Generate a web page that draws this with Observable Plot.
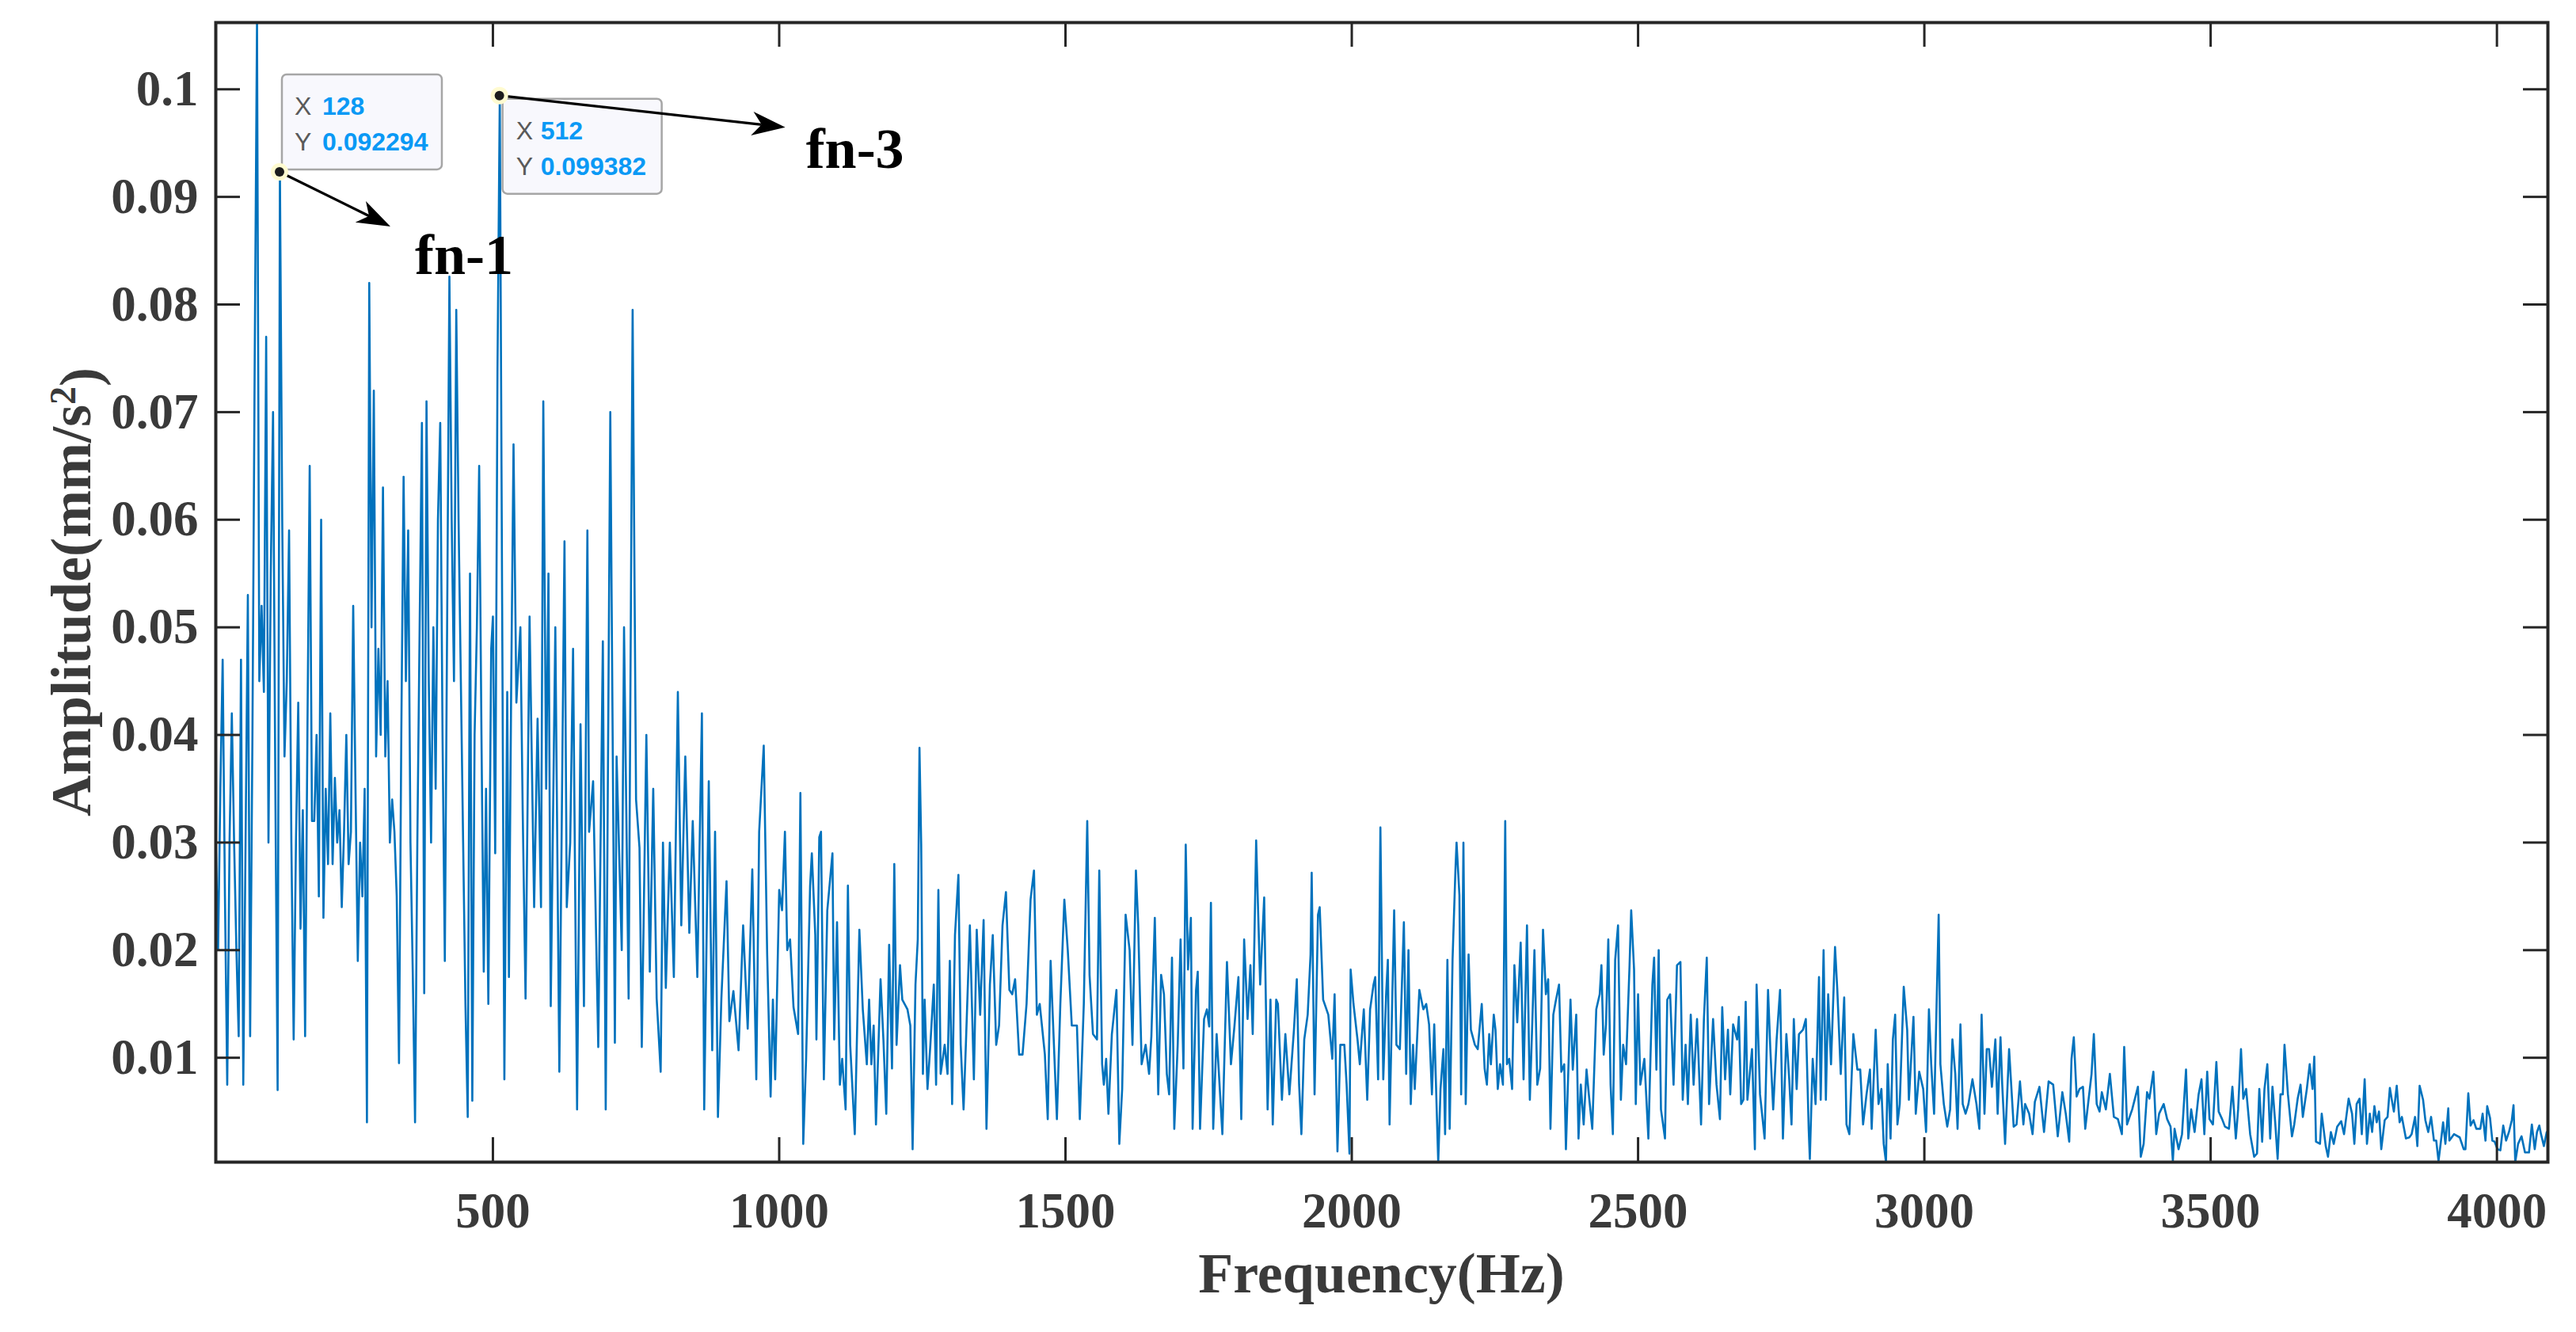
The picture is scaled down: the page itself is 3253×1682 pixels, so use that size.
<!DOCTYPE html>
<html><head><meta charset="utf-8">
<script src="https://cdn.jsdelivr.net/npm/d3@7"></script>
<script src="https://cdn.jsdelivr.net/npm/@observablehq/plot@0.6"></script>
<style>html,body{margin:0;padding:0;background:#fff;}</style>
</head><body>
<div id="chart"></div>
<script>
// [frequency (Hz), amplitude (mm/s^2)], band by band
const band1 = [[16,0.030],[20,0.020],[24,0.035],[28,0.047],[32,0.025],[36,0.0075],[40,0.030],[44,0.042],[48,0.030],[52,0.020],[56,0.012],[60,0.047],[64,0.0075],[68,0.030],[72,0.053],[76,0.012],[80,0.040],[84,0.075],[88,0.1062],[92,0.045],[96,0.052],[100,0.044],[104,0.077],[108,0.030],[112,0.055],[116,0.070],[120,0.035],[124,0.007],[128,0.092294],[132,0.060],[136,0.038],[140,0.045],[144,0.059],[148,0.030],[152,0.0117],[156,0.030],[160,0.043],[164,0.022],[168,0.033],[172,0.012],[176,0.040],[180,0.065],[184,0.032],[188,0.032],[192,0.040],[196,0.025],[200,0.060],[204,0.023],[208,0.035],[212,0.028],[216,0.042],[220,0.028],[224,0.036],[228,0.030],[232,0.033],[236,0.024],[240,0.031],[244,0.040],[248,0.028],[252,0.031],[256,0.052],[260,0.035],[264,0.019],[268,0.030],[272,0.025],[276,0.035],[280,0.004],[284,0.082],[288,0.050],[292,0.072],[296,0.038],[300,0.048],[304,0.040],[308,0.063],[312,0.038],[316,0.045],[320,0.030],[324,0.034],[328,0.031],[332,0.025],[336,0.0095],[340,0.040],[344,0.064],[348,0.045],[352,0.059],[356,0.030],[360,0.018],[364,0.004],[368,0.030],[372,0.050],[376,0.069],[380,0.016],[384,0.071],[388,0.045],[392,0.030],[396,0.050],[400,0.035],[404,0.060],[408,0.069],[412,0.040],[416,0.019],[420,0.050],[424,0.0826],[428,0.060],[432,0.045],[436,0.0795],[440,0.060],[444,0.045],[448,0.030],[452,0.015],[456,0.0045],[460,0.055],[464,0.006],[468,0.040],[472,0.050],[476,0.065],[480,0.040],[484,0.018],[488,0.035],[492,0.015]];
const band2 = [[497,0.048],[500,0.051],[504,0.029],[508,0.074],[512,0.099382],[515,0.065],[520,0.008],[525,0.044],[528,0.0175],[532,0.045],[536,0.067],[541,0.043],[548,0.050],[552,0.033],[557,0.0155],[564,0.051],[572,0.024],[578,0.0415],[584,0.024],[588,0.071],[593,0.035],[597,0.055],[601,0.0148],[609,0.050],[616,0.0087],[625,0.058],[629,0.024],[635,0.030],[640,0.048],[647,0.0052],[653,0.041],[659,0.0148],[665,0.059],[668,0.031],[675,0.0357],[684,0.011],[692,0.0487],[697,0.0052],[705,0.070],[713,0.0114],[716,0.038],[725,0.020],[729,0.050],[737,0.0155],[744,0.0795],[750,0.034],[756,0.0295],[760,0.011],[768,0.040],[774,0.018],[780,0.035],[786,0.0155],[793,0.0087],[797,0.030],[802,0.0165],[809,0.030],[816,0.0175],[823,0.044],[829,0.0223],[836,0.038],[843,0.0216],[849,0.032],[857,0.0175],[865,0.042],[869,0.0052],[877,0.0357],[883,0.0107],[888,0.031],[893,0.0045],[899,0.0155],[908,0.0264],[913,0.0134],[920,0.0162],[929,0.0107],[937,0.0223],[945,0.0127],[953,0.0275],[960,0.008],[965,0.031],[973,0.039],[979,0.0196]];
const band3 = [[985,0.0064],[989,0.0154],[993,0.008],[1000,0.0256],[1005,0.0237],[1010,0.031],[1014,0.020],[1019,0.021],[1025,0.0147],[1033,0.0122],[1037,0.0346],[1042,0.002],[1047,0.0099],[1054,0.026],[1057,0.029],[1063,0.0214],[1065,0.0117],[1070,0.0305],[1073,0.031],[1078,0.008],[1084,0.0237],[1093,0.029],[1096,0.0117],[1101,0.0226],[1106,0.0075],[1110,0.0099],[1116,0.0052],[1120,0.026],[1124,0.0112],[1132,0.0029],[1140,0.0219],[1146,0.0145],[1153,0.0094],[1157,0.0154],[1161,0.0094],[1165,0.013],[1169,0.0038],[1177,0.0173],[1182,0.0117],[1187,0.0048],[1192,0.0205],[1197,0.009],[1201,0.028],[1205,0.0112],[1211,0.0186],[1215,0.0154],[1224,0.0145],[1229,0.013],[1233,0.0015],[1238,0.0168],[1242,0.021],[1245,0.0388],[1248,0.0298],[1251,0.0085],[1254,0.0154],[1259,0.0071],[1264,0.0112],[1270,0.0168],[1274,0.0075],[1278,0.0256],[1282,0.0085],[1289,0.0112],[1294,0.0085],[1298,0.019],[1302,0.0057],[1307,0.0214],[1313,0.027],[1317,0.0112],[1322,0.0052],[1326,0.0112],[1333,0.0223],[1340,0.008],[1345,0.0219],[1351,0.014],[1357,0.0228],[1362,0.0034],[1368,0.0168],[1373,0.0214],[1379,0.0112],[1384,0.013],[1390,0.0223],[1396,0.0254],[1402,0.0163],[1407,0.0159],[1412,0.0173],[1419,0.0103],[1425,0.0103],[1432,0.015],[1439,0.0247],[1445,0.0274],[1450,0.014],[1455,0.015],[1464,0.0103],[1469,0.0043],[1474,0.019],[1478,0.0136],[1485,0.0043],[1491,0.015],[1498,0.0247],[1504,0.020],[1511,0.013],[1520,0.013],[1525,0.0043],[1532,0.015],[1538,0.032],[1542,0.0177],[1548,0.0122],[1555,0.0117],[1559,0.0274],[1564,0.0094],[1567,0.0075],[1571,0.0099],[1575,0.0048],[1581,0.0122],[1589,0.0163],[1594,0.002],[1599,0.0071],[1605,0.0233],[1612,0.020],[1617,0.0112],[1623,0.0274],[1627,0.0223],[1633,0.0094],[1640,0.0112],[1646,0.0085],[1650,0.012],[1656,0.023],[1662,0.0066],[1667,0.0177],[1672,0.0159],[1677,0.0085],[1681,0.0066]];
const band4 = [[1686,0.0193],[1690,0.0034],[1696,0.0112],[1701,0.021],[1706,0.009],[1710,0.0298],[1714,0.0182],[1719,0.023],[1722,0.0034],[1728,0.0163],[1731,0.018],[1735,0.0034],[1742,0.0136],[1747,0.0145],[1751,0.0129],[1754,0.0244],[1758,0.0034],[1764,0.0122],[1774,0.0029],[1782,0.0189],[1789,0.0094],[1795,0.0129],[1802,0.0175],[1807,0.0043],[1812,0.021],[1818,0.0136],[1823,0.0186],[1827,0.0122],[1833,0.0302],[1840,0.0168],[1847,0.0249],[1853,0.0052],[1858,0.0154],[1862,0.0038],[1868,0.0154],[1871,0.015],[1878,0.0061],[1884,0.0122],[1891,0.0066],[1899,0.0126],[1904,0.0173],[1908,0.0075],[1912,0.0029],[1917,0.0117],[1923,0.014],[1928,0.0196],[1930,0.0272],[1935,0.0066],[1941,0.0233],[1944,0.024],[1950,0.0154],[1959,0.014],[1966,0.0099],[1970,0.0159],[1975,0.0013],[1980,0.0112],[1987,0.0112],[1991,0.0075],[1996,0.0011],[1998,0.0182],[2003,0.015],[2010,0.0117],[2014,0.0094],[2021,0.0145],[2027,0.0061],[2032,0.0145],[2038,0.0168],[2041,0.0175],[2046,0.008],[2050,0.0314],[2055,0.008],[2060,0.0159],[2063,0.0191],[2066,0.0038],[2074,0.0237],[2078,0.0112],[2084,0.0108],[2091,0.0226],[2095,0.0085],[2099,0.020],[2103,0.0057],[2107,0.0112],[2110,0.0071],[2118,0.0163],[2125,0.0145],[2130,0.015],[2135,0.0131],[2140,0.0066],[2144,0.0131],[2151,0.0003],[2155,0.0071],[2160,0.0108],[2163,0.0029],[2167,0.0191],[2171,0.0034],[2176,0.0191],[2181,0.0274],[2183,0.030],[2188,0.0251],[2191,0.0066],[2195,0.030],[2199,0.0057],[2204,0.0196],[2208,0.0126],[2215,0.0112],[2220,0.0108],[2227,0.015],[2232,0.009],[2236,0.0075],[2240,0.0122],[2243,0.0094],[2248,0.014],[2251,0.0126],[2255,0.0071],[2259,0.0094],[2264,0.0075],[2268,0.032],[2271,0.0094],[2275,0.0099],[2280,0.0071],[2284,0.0186],[2289,0.0133],[2295,0.0207],[2300,0.008],[2306,0.0223],[2311,0.0061],[2316,0.0145],[2319,0.020],[2324,0.0075],[2329,0.009],[2334,0.0219],[2339,0.0159],[2343,0.0173],[2347,0.0034],[2352,0.014],[2356,0.0152],[2362,0.0168],[2366,0.0087],[2371,0.0094],[2374,0.0015]];
const band5 = [[2382,0.0154],[2386,0.0089],[2392,0.014],[2396,0.0025],[2400,0.0075],[2405,0.0038],[2410,0.0089],[2414,0.0066],[2420,0.0034],[2427,0.0145],[2433,0.0159],[2436,0.0186],[2440,0.0103],[2444,0.0131],[2448,0.021],[2452,0.0075],[2456,0.0029],[2460,0.0191],[2465,0.0223],[2470,0.0061],[2474,0.0112],[2479,0.0094],[2485,0.0184],[2488,0.0237],[2493,0.0182],[2496,0.0057],[2500,0.0159],[2504,0.0075],[2511,0.0099],[2518,0.0025],[2525,0.0168],[2528,0.0193],[2532,0.0089],[2536,0.020],[2540,0.0052],[2547,0.0025],[2551,0.0154],[2556,0.0159],[2562,0.0075],[2568,0.0186],[2574,0.0189],[2578,0.0061],[2583,0.0112],[2587,0.0057],[2592,0.014],[2597,0.0075],[2603,0.0136],[2610,0.0038],[2615,0.0136],[2620,0.0193],[2624,0.0057],[2631,0.0136],[2637,0.0075],[2643,0.0043],[2647,0.0147],[2652,0.008],[2657,0.0126],[2661,0.0066],[2666,0.0131],[2673,0.0117],[2676,0.0138],[2680,0.0057],[2684,0.0061],[2688,0.0152],[2691,0.0061],[2699,0.0108],[2704,0.0015],[2707,0.0168],[2713,0.0066],[2721,0.0025],[2727,0.0163],[2731,0.0108],[2736,0.0052],[2742,0.0117],[2748,0.0163],[2753,0.0025],[2759,0.0122],[2764,0.008],[2768,0.0038],[2772,0.0136],[2777,0.0071],[2781,0.0122],[2788,0.0126],[2793,0.0136],[2798,0.0034],[2800,0.0006],[2805,0.0099],[2810,0.0057],[2816,0.0175],[2819,0.0061],[2824,0.020],[2828,0.0061],[2832,0.0159],[2837,0.0094],[2844,0.0203],[2848,0.0163],[2854,0.0085],[2860,0.0156],[2864,0.0038],[2869,0.0029],[2876,0.0122],[2883,0.0089],[2888,0.0089],[2893,0.0038],[2899,0.0066],[2905,0.0089],[2908,0.0034],[2915,0.0126],[2920,0.0057],[2925,0.0071],[2929,0.002],[2933,0.0003],[2936,0.0094],[2941,0.0025],[2945,0.0117],[2949,0.014],[2953,0.0038],[2957,0.0057],[2964,0.0166],[2970,0.0126],[2973,0.0061],[2981,0.0138],[2985,0.0048],[2991,0.0087],[2998,0.0071],[3003,0.0031],[3008,0.0145],[3012,0.0094],[3017,0.0048],[3025,0.0233],[3028,0.0094],[3034,0.0057],[3040,0.0036],[3045,0.0052],[3049,0.0117],[3054,0.0085],[3058,0.0034],[3063,0.0131],[3067,0.0057]];
const band6 = [[3072,0.0048],[3077,0.0057],[3084,0.008],[3091,0.0057],[3096,0.0034],[3100,0.014],[3105,0.0048],[3109,0.0108],[3113,0.0108],[3118,0.0073],[3124,0.0117],[3128,0.0048],[3133,0.0119],[3136,0.0075],[3141,0.002],[3148,0.0108],[3156,0.0036],[3161,0.0038],[3167,0.0078],[3173,0.0038],[3176,0.0057],[3183,0.0048],[3189,0.0029],[3193,0.0059],[3201,0.0073],[3209,0.0031],[3217,0.0078],[3225,0.0075],[3233,0.0027],[3241,0.0068],[3247,0.0048],[3253,0.0022],[3257,0.0099],[3261,0.0119],[3266,0.0064],[3271,0.0071],[3277,0.0073],[3281,0.0034],[3287,0.0062],[3292,0.0085],[3296,0.0122],[3301,0.0057],[3306,0.005],[3310,0.0068],[3317,0.0052],[3324,0.0085],[3331,0.0045],[3338,0.0043],[3345,0.0029],[3349,0.011],[3354,0.0038],[3363,0.0052],[3373,0.0073],[3378,0.0008],[3383,0.002],[3389,0.0068],[3393,0.0062],[3400,0.0087],[3405,0.0029],[3410,0.0048],[3418,0.0057],[3424,0.0043],[3430,0.0036],[3434,0.0004],[3437,0.0034],[3444,0.0015],[3450,0.0029],[3457,0.0089],[3461,0.0025],[3466,0.0052],[3472,0.0031],[3479,0.0066],[3484,0.008],[3489,0.0029],[3494,0.0087],[3498,0.0043],[3504,0.0038],[3510,0.0096],[3514,0.005],[3520,0.0043],[3525,0.0036],[3532,0.0034],[3538,0.0073],[3544,0.0025],[3548,0.0052],[3553,0.0108],[3557,0.0062],[3562,0.0071],[3569,0.0029],[3576,0.0008],[3581,0.0011],[3585,0.0071],[3590,0.0022],[3594,0.0071],[3599,0.0094],[3604,0.0025],[3608,0.0073],[3613,0.0038],[3617,0.0006],[3622,0.0066],[3626,0.0066],[3629,0.0112],[3635,0.0066],[3642,0.0027],[3646,0.0038],[3652,0.0062],[3657,0.0075],[3661,0.0045],[3668,0.0071],[3673,0.0094],[3678,0.0071],[3681,0.0101],[3684,0.0022],[3691,0.002],[3694,0.0048],[3701,0.0018],[3705,0.0008],[3710,0.0031],[3715,0.002],[3721,0.0036],[3728,0.0041],[3733,0.0029],[3741,0.0062],[3747,0.0048],[3751,0.002],[3755,0.0057],[3760,0.0062]];
const band7 = [[3764,0.0029],[3769,0.008],[3773,0.002],[3778,0.0048],[3782,0.0031],[3786,0.0055],[3790,0.004],[3794,0.005],[3798,0.0015],[3804,0.0042],[3809,0.0045],[3813,0.0072],[3817,0.0059],[3820,0.005],[3825,0.0074],[3830,0.004],[3834,0.0045],[3841,0.0025],[3847,0.0026],[3851,0.0029],[3857,0.0045],[3861,0.0018],[3865,0.0074],[3871,0.0061],[3875,0.0042],[3880,0.0031],[3885,0.0045],[3890,0.0023],[3894,0.0023],[3898,0.0004],[3903,0.0026],[3906,0.004],[3910,0.002],[3915,0.0053],[3917,0.0023],[3925,0.0029],[3935,0.0026],[3942,0.0015],[3945,0.0015],[3950,0.0067],[3954,0.0037],[3959,0.0042],[3964,0.0034],[3971,0.0034],[3975,0.0048],[3980,0.0023],[3983,0.0055],[3988,0.0044],[3992,0.0023],[3996,0.0022],[4001,0.0015],[4006,0.0014],[4011,0.0037],[4016,0.0023],[4021,0.0031],[4026,0.0042],[4029,0.0056],[4032,0.0003],[4037,0.002],[4043,0.0027],[4049,0.0012],[4056,0.0012],[4061,0.0038],[4066,0.0015],[4070,0.0031],[4074,0.0037],[4077,0.0029],[4082,0.0018],[4087,0.0031],[4089,0.0031]];

const xTicks = [500, 1000, 1500, 2000, 2500, 3000, 3500, 4000];
const yTicks = [0.01, 0.02, 0.03, 0.04, 0.05, 0.06, 0.07, 0.08, 0.09, 0.1];
const dataTips = [
  {f: 128, a: 0.092294, xText: "128", yText: "0.092294", tag: "fn-1"},
  {f: 512, a: 0.099382, xText: "512", yText: "0.099382", tag: "fn-3"}
];
const xLabel = "Frequency(Hz)";
const yLabel = "Amplitude(mm/s";

const spectrum = [...band1, ...band2, ...band3, ...band4, ...band5, ...band6, ...band7].map(([f, a]) => ({f, a}));

const W = 3253, H = 1682, mL = 272, mR = 36, mT = 28, mB = 215;
const frameH = H - mT - mB, frameW = W - mL - mR, tickLen = 31;
const serif = "'Liberation Serif','Times New Roman',Times,serif";
const sans = "'Liberation Sans',Arial,Helvetica,sans-serif";
const axisColor = "#262626";

const chart = Plot.plot({
  width: W, height: H,
  marginLeft: mL, marginRight: mR, marginTop: mT, marginBottom: mB,
  style: {fontFamily: serif, fontSize: "63px", fontWeight: "bold", color: "#3a3a3a", background: "#fff", overflow: "visible"},
  x: {domain: d3.extent(spectrum, d => d.f), label: null},
  y: {domain: d3.extent(spectrum, d => d.a), label: null},
  marks: [
    Plot.line(spectrum, {x: "f", y: "a", stroke: "#0072BD", strokeWidth: 2.6, clip: true}),
    Plot.tickX(xTicks, {x: d => d, insetTop: frameH - tickLen, stroke: axisColor, strokeWidth: 3}),
    Plot.tickX(xTicks, {x: d => d, insetBottom: frameH - tickLen, stroke: axisColor, strokeWidth: 3}),
    Plot.tickY(yTicks, {y: d => d, insetRight: frameW - tickLen, stroke: axisColor, strokeWidth: 3}),
    Plot.tickY(yTicks, {y: d => d, insetLeft: frameW - tickLen, stroke: axisColor, strokeWidth: 3}),
    Plot.axisX(xTicks, {tickSize: 0, tickPadding: 38, tickFormat: d => String(d), label: null}),
    Plot.axisY(yTicks, {tickSize: 0, tickPadding: 22, tickFormat: d => String(+d.toFixed(2)), label: null}),
    Plot.frame({stroke: axisColor, strokeWidth: 4})
  ]
});
document.getElementById("chart").appendChild(chart);

const sx = chart.scale("x"), sy = chart.scale("y");
const svg = d3.select(chart);
const g = svg.append("g").attr("text-anchor", "start");

// axis labels
g.append("text")
  .attr("x", mL + frameW / 2).attr("y", 1632)
  .attr("text-anchor", "middle")
  .style("font", `bold 72px ${serif}`).attr("fill", "#3a3a3a")
  .text(xLabel);
const yl = g.append("text")
  .attr("transform", `translate(${mL - 158},${mT + frameH / 2}) rotate(-90)`)
  .attr("text-anchor", "middle")
  .style("font", `bold 72px ${serif}`).attr("fill", "#3a3a3a");
yl.append("tspan").text(yLabel);
yl.append("tspan").attr("dy", "-0.42em").style("font-size", "46px").text("2");
yl.append("tspan").attr("dy", "0.42em").text(")");

// data tips
const tipLayout = [
  {box: [3, -123, 202, 120], tx: [19, 54], ty: [-72, -27], arrow: [140, 69], label: [171, 129]},
  {box: [4, 4, 201, 120], tx: [21, 52], ty: [55, 100], arrow: [361, 40], label: [387, 91]}
];
function arrowHead(x0, y0, x1, y1) {
  const dx = x1 - x0, dy = y1 - y0, len = Math.hypot(dx, dy);
  const ux = dx / len, uy = dy / len, nx = -uy, ny = ux;
  const L = 42, w = 15, notch = 30;
  return {
    poly: [[x1, y1], [x1 - ux * L + nx * w, y1 - uy * L + ny * w], [x1 - ux * notch, y1 - uy * notch], [x1 - ux * L - nx * w, y1 - uy * L - ny * w]],
    base: [x1 - ux * notch, y1 - uy * notch]
  };
}
dataTips.forEach((t, i) => {
  const L = tipLayout[i];
  const px = sx.apply(t.f), py = sy.apply(t.a);
  g.append("rect").attr("x", px + L.box[0]).attr("y", py + L.box[1])
    .attr("width", L.box[2]).attr("height", L.box[3]).attr("rx", 6)
    .attr("fill", "#f8f8fd").attr("stroke", "#a6a6a6").attr("stroke-width", 2.5);
  [["X", t.xText, L.ty[0]], ["Y", t.yText, L.ty[1]]].forEach(([k, v, oy]) => {
    g.append("text").attr("x", px + L.tx[0]).attr("y", py + oy).attr("text-anchor", "start")
      .style("font", `normal 32px ${sans}`).attr("fill", "#5a5a5a").text(k);
    g.append("text").attr("x", px + L.tx[1]).attr("y", py + oy).attr("text-anchor", "start")
      .style("font", `bold 32px ${sans}`).attr("fill", "#0a99f5").text(v);
  });
});
dataTips.forEach((t, i) => {
  const L = tipLayout[i];
  const px = sx.apply(t.f), py = sy.apply(t.a);
  const ex = px + L.arrow[0], ey = py + L.arrow[1];
  const h = arrowHead(px, py, ex, ey);
  g.append("line").attr("x1", px).attr("y1", py).attr("x2", h.base[0]).attr("y2", h.base[1])
    .attr("stroke", "#000").attr("stroke-width", 3.2);
  g.append("polygon").attr("points", h.poly.map(p => p.join(",")).join(" ")).attr("fill", "#000");
  g.append("circle").attr("cx", px).attr("cy", py).attr("r", 11).attr("fill", "#fffbd0");
  g.append("circle").attr("cx", px).attr("cy", py).attr("r", 6).attr("fill", "#1c1c1c");
  g.append("text").attr("x", px + L.label[0]).attr("y", py + L.label[1]).attr("text-anchor", "start")
    .style("font", `bold 72px ${serif}`).attr("fill", "#000").text(t.tag);
});
</script>
</body></html>
